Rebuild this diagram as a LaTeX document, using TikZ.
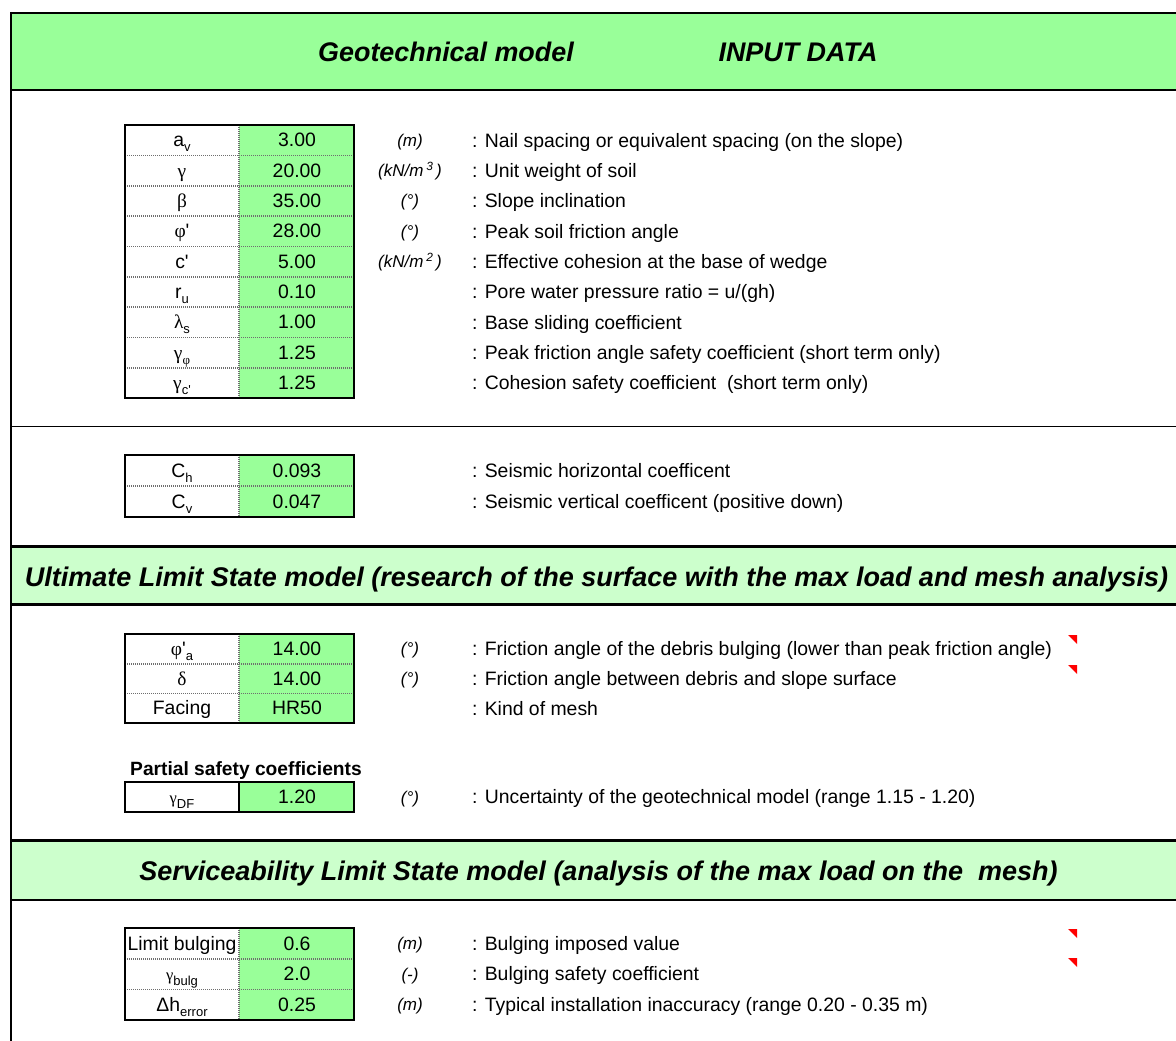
\documentclass[tikz,border=0pt]{standalone}
\usepackage{fontspec}
\setmainfont{Liberation Sans}[Ligatures=TeXOff]
\newfontfamily\grk{Liberation Serif}[Ligatures=TeXOff]
\definecolor{hdgreen}{RGB}{153,255,153}
\definecolor{lightgreen}{RGB}{204,255,204}
\definecolor{commentred}{RGB}{255,0,0}
\definecolor{sepgray}{RGB}{110,110,110}
\newcommand{\sbs}[1]{\raisebox{-0.25em}{\fontsize{13}{14}\selectfont #1}}
\newcommand{\apo}{'}
\newcommand{\rowcells}[5]{%
  \fill[hdgreen] (239,#2) rectangle (354,#3);
  \node[lbl] (#1-l) at (182,{(#2+#3)/2+6.8}) {#4};
  \node[val] (#1-v) at (297,{(#2+#3)/2+6.8}) {#5};
}
\newcommand{\desctext}[3]{%
  \node[desc] (#1) at (472,{#2+6.8}) {#3};
}
\newcommand{\unittext}[3]{%
  \node[unitt] (#1) at (410,{#2+6}) {#3};
}
\begin{document}
\begin{tikzpicture}[x=1pt,y=-1pt,
  txt/.style={font=\fontsize{19.4}{22}\selectfont, inner sep=0pt},
  lbl/.style={txt, anchor=base},
  val/.style={txt, anchor=base},
  unitt/.style={font=\fontsize{17}{19}\selectfont\itshape, inner sep=0pt, anchor=base},
  desc/.style={txt, anchor=base west},
  bandtitle/.style={font=\fontsize{27}{30}\selectfont\bfseries\itshape, inner sep=0pt, anchor=base},
  maintitle/.style={font=\fontsize{26.9}{30}\selectfont\bfseries\itshape, inner sep=0pt, anchor=base},
  sep/.style={draw=sepgray, line width=1.6pt, dash pattern=on 1pt off 1pt},
  frame/.style={draw=black, line width=2pt},
  rule/.style={draw=black, line width=2.4pt},
  thinrule/.style={draw=black, line width=1.8pt},
  flag/.style={fill=commentred}
]
\useasboundingbox (0,0) rectangle (1176,1041);

% ---- bands ----
\fill[hdgreen] (11,13) rectangle (1176,90);
\fill[lightgreen] (11,547) rectangle (1176,604);
\fill[lightgreen] (11,841) rectangle (1176,900);
\draw[rule] (11,13) -- (1176,13);
\draw[rule] (11,90) -- (1176,90);
\draw[thinrule] (11,426.5) -- (1176,426.5);
\draw[rule] (11,546.5) -- (1176,546.5);
\draw[rule] (11,604.5) -- (1176,604.5);
\draw[rule] (11,840.5) -- (1176,840.5);
\draw[rule] (11,900) -- (1176,900);
\draw[rule] (11,11.8) -- (11,1041);

\node[maintitle] (t1) at (446,61.5) {Geotechnical model};
\node[maintitle] (t2) at (798,61.5) {INPUT DATA};
\node[bandtitle] (t3) at (596.5,586.5) {Ultimate Limit State model (research of the surface with the max load and mesh analysis)};
\node[bandtitle] (t4) at (598.5,880.5) {Serviceability Limit State model (analysis of the max load on the\ \ mesh)};

% ---- table 1 ----
\rowcells{r1}{125}{155.3}{a\sbs{v}}{3.00}
\rowcells{r2}{155.3}{185.7}{{\grk γ}}{20.00}
\rowcells{r3}{185.7}{216}{{\grk β}}{35.00}
\rowcells{r4}{216}{246.3}{{\grk φ}\apo}{28.00}
\rowcells{r5}{246.3}{276.7}{c\apo}{5.00}
\rowcells{r6}{276.7}{307}{r\sbs{u}}{0.10}
\rowcells{r7}{307}{337.3}{{\grk λ}\sbs{s}}{1.00}
\rowcells{r8}{337.3}{367.7}{{\grk γ}\sbs{\grk φ}}{1.25}
\rowcells{r9}{367.7}{398}{{\grk γ}\sbs{c\apo}}{1.25}
\foreach \yy in {155.3,185.7,216,246.3,276.7,307,337.3,367.7}
  \draw[sep] (125,\yy) -- (354,\yy);
\draw[sep] (239,125) -- (239,398);
\draw[frame] (125,125) rectangle (354,398);

\unittext{u1}{140.2}{(m)}
\unittext{u2}{170.5}{(kN/m\,\textsuperscript{3}\,)}
\unittext{u3}{200.8}{(°)}
\unittext{u4}{231.2}{(°)}
\unittext{u5}{261.5}{(kN/m\,\textsuperscript{2}\,)}

\desctext{d1}{140.2}{: Nail spacing or equivalent spacing (on the slope)}
\desctext{d2}{170.5}{: Unit weight of soil}
\desctext{d3}{200.8}{: Slope inclination}
\desctext{d4}{231.2}{: Peak soil friction angle}
\desctext{d5}{261.5}{: Effective cohesion at the base of wedge}
\desctext{d6}{291.8}{: Pore water pressure ratio = u/(gh)}
\desctext{d7}{322.2}{: Base sliding coefficient}
\desctext{d8}{352.5}{: Peak friction angle safety coefficient (short term only)}
\desctext{d9}{382.8}{: Cohesion safety coefficient\ \ (short term only)}

% ---- table 2 ----
\rowcells{s1}{455}{486}{C\sbs{h}}{0.093}
\rowcells{s2}{486}{517}{C\sbs{v}}{0.047}
\draw[sep] (125,486) -- (354,486);
\draw[sep] (239,455) -- (239,517);
\draw[frame] (125,455) rectangle (354,517);
\desctext{e1}{470.5}{: Seismic horizontal coefficent}
\desctext{e2}{501.5}{: Seismic vertical coefficent (positive down)}

% ---- table 3 ----
\rowcells{q1}{634}{663.7}{{\grk φ}\apo\sbs{a}}{14.00}
\rowcells{q2}{663.7}{693.3}{{\grk δ}}{14.00}
\rowcells{q3}{693.3}{723}{Facing}{HR50}
\draw[sep] (125,663.7) -- (354,663.7);
\draw[sep] (125,693.3) -- (354,693.3);
\draw[sep] (239,634) -- (239,723);
\draw[frame] (125,634) rectangle (354,723);
\unittext{v1}{648.8}{(°)}
\unittext{v2}{678.5}{(°)}
\desctext{f1}{648.8}{: Friction angle of the debris bulging (lower than peak friction angle)}
\desctext{f2}{678.5}{: Friction angle between debris and slope surface}
\desctext{f3}{708.2}{: Kind of mesh}
\fill[flag] (1068,635) -- (1077,635) -- (1077,644) -- cycle;
\fill[flag] (1068,665) -- (1077,665) -- (1077,674) -- cycle;

% ---- partial safety ----
\node[font=\fontsize{19.2}{22}\selectfont\bfseries, inner sep=0pt, anchor=base west] (psc) at (130,775.5) {Partial safety coefficients};
\rowcells{p1}{782}{812}{{\grk\fontsize{16.5}{18}\selectfont γ}\sbs{DF}}{1.20}
\draw[draw=black, line width=1.2pt] (239,782) -- (239,812);
\draw[frame] (125,782) rectangle (354,812);
\unittext{v3}{797}{(°)}
\desctext{g1}{797}{: Uncertainty of the geotechnical model (range 1.15 - 1.20)}

% ---- table 5 ----
\rowcells{b1}{928}{958.7}{Limit bulging}{0.6}
\rowcells{b2}{958.7}{989.3}{{\grk\fontsize{16.5}{18}\selectfont γ}\sbs{bulg}}{2.0}
\rowcells{b3}{989.3}{1020}{Δh\sbs{error}}{0.25}
\draw[sep] (125,958.7) -- (354,958.7);
\draw[sep] (125,989.3) -- (354,989.3);
\draw[sep] (239,928) -- (239,1020);
\draw[frame] (125,928) rectangle (354,1020);
\unittext{v4}{943.3}{(m)}
\unittext{v5}{974}{(-)}
\unittext{v6}{1004.7}{(m)}
\desctext{h1}{943.3}{: Bulging imposed value}
\desctext{h2}{974}{: Bulging safety coefficient}
\desctext{h3}{1004.7}{: Typical installation inaccuracy (range 0.20 - 0.35 m)}
\fill[flag] (1068,929) -- (1077,929) -- (1077,938) -- cycle;
\fill[flag] (1068,958) -- (1077,958) -- (1077,967) -- cycle;
\end{tikzpicture}
\end{document}
